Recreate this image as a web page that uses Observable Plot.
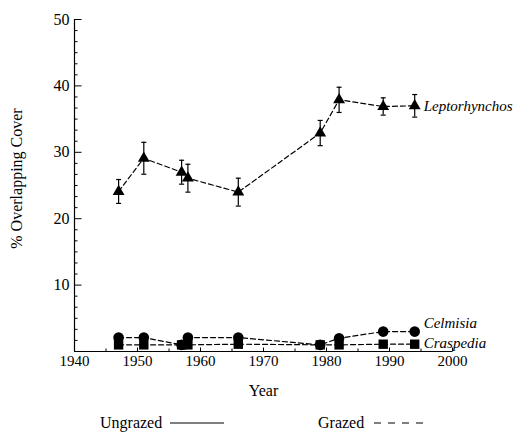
<!DOCTYPE html>
<html>
<head>
<meta charset="utf-8">
<script src="https://cdn.jsdelivr.net/npm/d3@7"></script>
<script src="https://cdn.jsdelivr.net/npm/@observablehq/plot@0.6"></script>
<style>
  html, body { margin: 0; padding: 0; background: #fff; overflow: hidden; }
  #wrap { width: 518px; font-family: "Liberation Serif", Tinos, "Times New Roman", Times, "DejaVu Serif", "Noto Serif", serif; color: #000; }
  #legend { position: relative; width: 518px; height: 29px; font-size: 16px; }
  #legend span { position: absolute; top: 8px; line-height: 20px; }
  #legend svg { position: absolute; }
  #chart svg, #chart svg text { font-family: "Liberation Serif", Tinos, "Times New Roman", Times, "DejaVu Serif", "Noto Serif", serif; }
</style>
</head>
<body>
<div id="wrap">
  <div id="chart"></div>
  <div id="legend">
    <span style="left:100px">Ungrazed</span>
    <svg style="left:170px; top:10px" width="56" height="16"><line x1="0" y1="8" x2="54" y2="8" stroke="#000" stroke-width="1.2"/></svg>
    <span style="left:318px">Grazed</span>
    <svg style="left:374px; top:10px" width="62" height="16"><line x1="0" y1="8" x2="56" y2="8" stroke="#000" stroke-width="1.2" stroke-dasharray="7,7"/></svg>
  </div>
</div>
<script>
// ---- data ----
const years = [1947, 1951, 1957, 1958, 1966, 1979, 1982, 1989, 1994];
const leptorhynchos = [24.1, 29.1, 27, 26.1, 24, 32.9, 37.9, 36.9, 37];
const leptorhynchosErr = [1.8, 2.4, 1.8, 2.1, 2.1, 1.9, 1.9, 1.3, 1.7];
const celmisia = [2.1, 2.1, 1, 2.1, 2.1, 1, 2, 3, 3];
const craspedia = [1, 1, 1, 1, 1.1, 1, 1, 1.1, 1.1];
const seriesNames = ["Leptorhynchos", "Celmisia", "Craspedia"];
const xTickLabels = [1940, 1950, 1960, 1970, 1980, 1990, 2000];
const xMinorTicks = [1945, 1955, 1965, 1975, 1985, 1995];
const yTickLabels = [10, 20, 30, 40, 50];
const yMinorTicks = d3.range(0, 31).map(i => i * 10 / 6).filter(v => Math.abs(v / 10 - Math.round(v / 10)) > 1e-6);

const lep = years.map((year, i) => ({year, v: leptorhynchos[i], e: leptorhynchosErr[i]}));
const cel = years.map((year, i) => ({year, v: celmisia[i]}));
const cra = years.map((year, i) => ({year, v: craspedia[i]}));

// tick symbols
const tickRight = len => ({draw(ctx) { ctx.moveTo(0, 0); ctx.lineTo(len, 0); }});
const tickUp = len => ({draw(ctx) { ctx.moveTo(0, 0); ctx.lineTo(0, -len); }});
const cap = half => ({draw(ctx) { ctx.moveTo(-half, 0); ctx.lineTo(half, 0); }});

const serif = "'Liberation Serif', Tinos, 'Times New Roman', Times, 'DejaVu Serif', 'Noto Serif', serif";
const dash = "5,3";
const chart = Plot.plot({
  width: 518,
  height: 405,
  marginLeft: 74,
  marginRight: 66,
  marginTop: 19,
  marginBottom: 54,
  x: {domain: [1940, 2000]},
  y: {domain: [0, 50]},
  style: {fontFamily: serif, fontSize: "16px", background: "white", color: "black", overflow: "visible"},
  marks: [
    // axes lines
    Plot.ruleX([1940], {y1: 0, y2: 50, stroke: "black", strokeWidth: 1.2}),
    Plot.ruleY([0], {x1: 1940, x2: 2000, stroke: "black", strokeWidth: 1.2}),
    // y ticks (inward)
    Plot.dot(yTickLabels, {y: d => d, frameAnchor: "left", symbol: tickRight(7), r: 1, stroke: "black", fill: "none", strokeWidth: 1}),
    Plot.dot(yMinorTicks, {y: d => d, frameAnchor: "left", symbol: tickRight(3), r: 1, stroke: "black", fill: "none", strokeWidth: 1}),
    // x ticks (inward)
    Plot.dot(xTickLabels, {x: d => d, frameAnchor: "bottom", symbol: tickUp(4), r: 1, stroke: "black", fill: "none", strokeWidth: 1}),
    Plot.dot(xMinorTicks, {x: d => d, frameAnchor: "bottom", symbol: tickUp(3), r: 1, stroke: "black", fill: "none", strokeWidth: 1}),
    Plot.axisY({ticks: yTickLabels, tickSize: 0, tickPadding: 5, label: null, fontSize: 16}),
    Plot.axisX({ticks: xTickLabels, tickSize: 0, tickPadding: 4, label: null, tickFormat: d => String(d), fontSize: 15}),
    Plot.text(["% Overlapping Cover"], {frameAnchor: "left", textAnchor: "middle", lineAnchor: "middle", dx: -58, dy: -7, rotate: -90, fontSize: 16}),
    Plot.text(["Year"], {frameAnchor: "bottom", textAnchor: "middle", lineAnchor: "middle", dy: 39, fontSize: 16}),
    // lines
    Plot.line(cel, {x: "year", y: "v", stroke: "black", strokeWidth: 1.2, strokeDasharray: dash}),
    Plot.line(cra, {x: "year", y: "v", stroke: "black", strokeWidth: 1.2, strokeDasharray: dash}),
    Plot.line(lep, {x: "year", y: "v", stroke: "black", strokeWidth: 1.2, strokeDasharray: dash}),
    // error bars
    Plot.ruleX(lep, {x: "year", y1: d => d.v - d.e, y2: d => d.v + d.e, stroke: "black", strokeWidth: 1.2}),
    Plot.dot(lep, {x: "year", y: d => d.v + d.e, symbol: cap(2.5), r: 1, stroke: "black", fill: "none", strokeWidth: 1.2}),
    Plot.dot(lep, {x: "year", y: d => d.v - d.e, symbol: cap(2.5), r: 1, stroke: "black", fill: "none", strokeWidth: 1.2}),
    // markers
    Plot.dot(cel, {x: "year", y: "v", symbol: "circle", r: 5.3, fill: "black", stroke: "none"}),
    Plot.dot(cra, {x: "year", y: "v", symbol: "square", r: 5.3, fill: "black", stroke: "none"}),
    Plot.dot(lep, {x: "year", y: "v", symbol: "triangle", r: 4.4, fill: "black", stroke: "none"}),
    // series labels
    Plot.text([lep[lep.length - 1]], {x: "year", y: "v", text: () => seriesNames[0], textAnchor: "start", dx: 9, fontStyle: "italic", fontSize: 15}),
    Plot.text([cel[cel.length - 1]], {x: "year", y: "v", text: () => seriesNames[1], textAnchor: "start", dx: 9, dy: -8, fontStyle: "italic", fontSize: 15}),
    Plot.text([cra[cra.length - 1]], {x: "year", y: "v", text: () => seriesNames[2], textAnchor: "start", dx: 9, dy: -1, fontStyle: "italic", fontSize: 15})
  ]
});
document.getElementById("chart").appendChild(chart);
</script>
</body>
</html>
